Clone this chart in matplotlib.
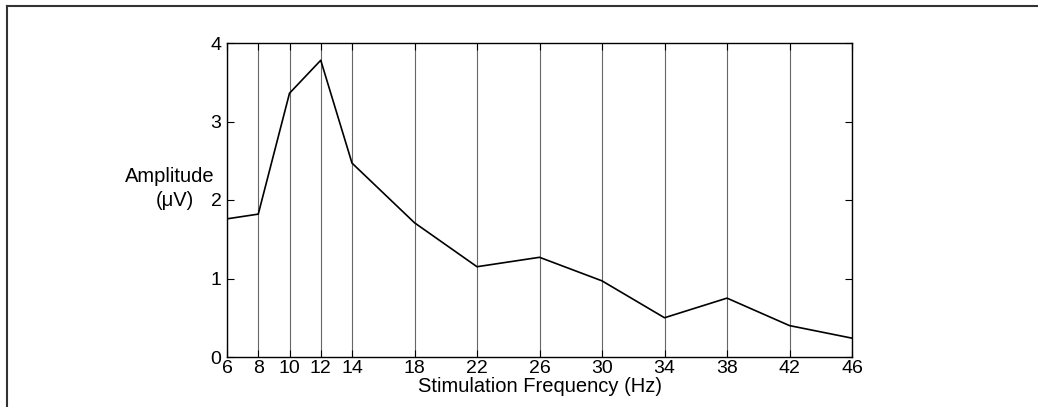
import matplotlib
matplotlib.use('Agg')
import matplotlib.pyplot as plt
from matplotlib.lines import Line2D

freqs = [6, 8, 10, 12, 14, 18, 22, 26, 30, 34, 38, 42, 46]
amps = [1.76, 1.82, 3.36, 3.78, 2.47, 1.71, 1.15, 1.27, 0.97, 0.50, 0.75, 0.40, 0.24]
yticks = [0, 1, 2, 3, 4]

plt.rcParams['font.family'] = ['Liberation Sans', 'DejaVu Sans']
plt.rcParams['font.size'] = 14

W, H = 1038, 407
fig = plt.figure(figsize=(W / 100, H / 100), dpi=100)
ax = fig.add_axes([227/W, 50/H, 625/W, 314/H])

for f in freqs:
    ax.axvline(f, color='#666666', lw=0.8, zorder=1)
ax.plot(freqs, amps, color='black', lw=1.2, zorder=3)

ax.set_xlim(6, 46)
ax.set_ylim(0, 4)
ax.set_xticks(freqs)
ax.set_yticks(yticks)
ax.tick_params(direction='in', length=5, width=0.8, top=True, right=True, labelsize=14)
ax.tick_params(axis='x', pad=2)
ax.tick_params(axis='y', pad=4)
for s in ax.spines.values():
    s.set_linewidth(1.0)

ax.set_xlabel('Stimulation Frequency (Hz)', fontsize=14.5, labelpad=0)
# y label written horizontally in two lines, as in the reference
fig.text(170/W, 1 - 182/H, 'Amplitude', ha='center', va='baseline', fontsize=14.5)
fig.text(175/W, 1 - 206/H, '(\u03bcV)', ha='center', va='baseline', fontsize=14.5)

# outer frame (top and left only)
fig.add_artist(Line2D([7/W, 1], [1 - 6/H, 1 - 6/H], transform=fig.transFigure,
                      color='#333333', lw=1.5))
fig.add_artist(Line2D([7/W, 7/W], [0, 1 - 6/H], transform=fig.transFigure,
                      color='#333333', lw=1.5))

fig.savefig('out.png', dpi=100)
